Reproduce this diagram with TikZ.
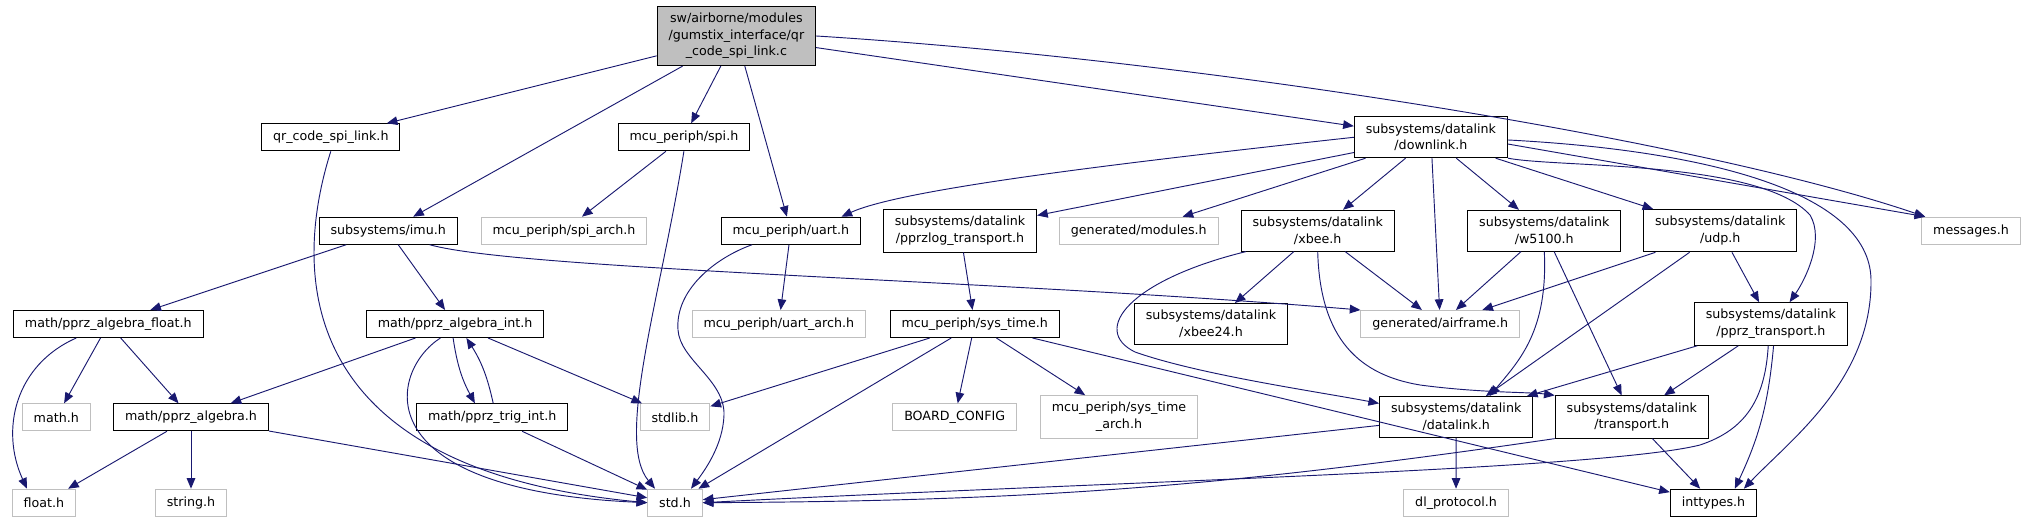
\documentclass[tikz,border=0pt]{standalone}
\usepackage{fontspec}
\setmainfont{DejaVu Sans}
\usetikzlibrary{arrows.meta}
\definecolor{edgeblue}{HTML}{191970}
\definecolor{boxgray}{HTML}{BFBFBF}

\begin{document}
\begin{tikzpicture}[x=0.75pt, y=-0.75pt, >={Triangle[length=8pt,width=6.5pt]},
  box/.style={draw=black, line width=0.75pt, fill=white, align=center,
    inner xsep=8.6pt, inner ysep=5pt, minimum height=20.25pt,
    font=\fontsize{9.5}{12.5}\selectfont},
  ext/.style={box, draw=boxgray},
  inc/.style={->, edgeblue, line width=0.7pt}]
  \useasboundingbox (0,0) rectangle (2026,523);
  % source file
  \node[box, fill=boxgray] (root) at (736.4,36) {sw/airborne/modules\\/gumstix\_interface/qr\\\_code\_spi\_link.c};
  % first rank
  \node[box] (qrlink) at (330.8,137.3) {qr\_code\_spi\_link.h};
  \node[box] (spi) at (683.9,137.3) {mcu\_periph/spi.h};
  \node[box] (downlink) at (1430.9,137.3) {subsystems/datalink\\/downlink.h};
  % second rank
  \node[box] (imu) at (388.2,230.7) {subsystems/imu.h};
  \node[ext] (spiarch) at (564,230.7) {mcu\_periph/spi\_arch.h};
  \node[box] (uart) at (790.8,230.7) {mcu\_periph/uart.h};
  \node[box] (pprzlog) at (960,230.7) {subsystems/datalink\\/pprzlog\_transport.h};
  \node[ext] (modules) at (1138.8,230.7) {generated/modules.h};
  \node[box] (xbee) at (1317.7,230.7) {subsystems/datalink\\/xbee.h};
  \node[box] (w5100) at (1544.3,230.7) {subsystems/datalink\\/w5100.h};
  \node[box] (udp) at (1720.2,230.7) {subsystems/datalink\\/udp.h};
  \node[ext] (messages) at (1971,230.7) {messages.h};
  % third rank
  \node[box] (algfloat) at (108.3,324) {math/pprz\_algebra\_float.h};
  \node[box] (algint) at (455.1,324) {math/pprz\_algebra\_int.h};
  \node[ext] (uartarch) at (778.8,324) {mcu\_periph/uart\_arch.h};
  \node[box] (systime) at (974.7,324) {mcu\_periph/sys\_time.h};
  \node[box] (xbee24) at (1211,324) {subsystems/datalink\\/xbee24.h};
  \node[ext] (airframe) at (1440.3,324) {generated/airframe.h};
  \node[box] (pprztr) at (1770.9,324) {subsystems/datalink\\/pprz\_transport.h};
  % fourth rank
  \node[ext] (mathh) at (56.3,417.3) {math.h};
  \node[box] (alg) at (191,417.3) {math/pprz\_algebra.h};
  \node[box] (trig) at (492.2,417.3) {math/pprz\_trig\_int.h};
  \node[ext] (stdlib) at (675,417.3) {stdlib.h};
  \node[ext] (board) at (954.7,417.3) {BOARD\_CONFIG};
  \node[ext] (systimearch) at (1119,417) {mcu\_periph/sys\_time\\\_arch.h};
  \node[box] (datalink) at (1456.2,417) {subsystems/datalink\\/datalink.h};
  \node[box] (transport) at (1631.8,417) {subsystems/datalink\\/transport.h};
  % last rank
  \node[ext] (floath) at (44,502.7) {float.h};
  \node[ext] (stringh) at (191,502.7) {string.h};
  \node[ext] (stdh) at (675,502.7) {std.h};
  \node[ext] (dlproto) at (1456,502.7) {dl\_protocol.h};
  \node[box] (inttypes) at (1713.5,502.7) {inttypes.h};
  % includes of the source file
  \draw[inc] (root) -- (qrlink);
  \draw[inc] (root) -- (imu);
  \draw[inc] (root) -- (spi);
  \draw[inc] (root) -- (uart);
  \draw[inc] (root) -- (downlink);
  \draw[inc] (root.east) .. controls (1200,60) and (1700,140) .. ([xshift=3pt]messages.north west);
  % qr_code_spi_link.h, spi.h, uart.h
  \draw[inc] (qrlink.south) .. controls (290,280) and (300,470) .. (stdh.west);
  \draw[inc] (spi) -- (spiarch);
  \draw[inc] (spi.south) .. controls (660,300) and (615,440) .. ([xshift=-15pt]stdh.north);
  \draw[inc] (uart) -- (uartarch);
  \draw[inc] ([xshift=-29pt]uart.south) .. controls (715,258) and (675,290) .. (678,330)
    .. controls (680,360) and (725,380) .. (724,415) .. controls (723,445) and (705,470) .. ([xshift=12pt]stdh.north);
  % imu.h and the math headers
  \draw[inc] (imu) -- (algfloat);
  \draw[inc] (imu) -- (algint);
  \draw[inc] ([xshift=31pt]imu.south) .. controls (520,270) and (1000,280) .. (airframe.north west);
  \draw[inc] ([xshift=-24pt]algfloat.south) .. controls (15,365) and (0,430) .. ([xshift=-12.75pt]floath.north);
  \draw[inc] (algfloat) -- (mathh);
  \draw[inc] (algfloat) -- (alg);
  \draw[inc] (algint) -- (alg);
  \draw[inc] ([xshift=-11pt]algint.south) .. controls (390,370) and (360,490) .. (stdh.west);
  \draw[inc] ([xshift=-1.5pt]algint.south) to[bend right=10] ([xshift=-13pt]trig.north);
  \draw[inc] ([xshift=0.75pt]trig.north) to[bend right=10] ([xshift=8.5pt]algint.south);
  \draw[inc] (algint) -- (stdlib);
  \draw[inc] (alg) -- (floath);
  \draw[inc] (alg) -- (stringh);
  \draw[inc] (alg) -- (stdh);
  \draw[inc] (trig) -- (stdh);
  % sys_time.h
  \draw[inc] (pprzlog) -- (systime);
  \draw[inc] (systime) -- (stdlib);
  \draw[inc] (systime) -- (stdh);
  \draw[inc] (systime) -- (board);
  \draw[inc] (systime) -- (systimearch);
  \draw[inc] (systime) -- (inttypes);
  % downlink.h
  \draw[inc] (downlink.west) .. controls (1100,165) and (900,190) .. ([xshift=38pt]uart.north);
  \draw[inc] (downlink) -- (pprzlog);
  \draw[inc] (downlink) -- (modules);
  \draw[inc] (downlink) -- (xbee);
  \draw[inc] (downlink) -- (airframe);
  \draw[inc] (downlink) -- (w5100);
  \draw[inc] (downlink) -- (udp);
  \draw[inc] (downlink.-5) -- ([xshift=3pt]messages.north west);
  \draw[inc] (downlink.south east) .. controls (1560,168) and (1760,160) .. (1810,215)
    .. controls (1825,240) and (1805,280) .. ([xshift=14pt]pprztr.north);
  \draw[inc] (downlink.-2) .. controls (1700,150) and (1870,190) .. (1871,280)
    .. controls (1872,380) and (1790,440) .. ([xshift=-10pt]inttypes.north east);
  % xbee.h, w5100.h, udp.h
  \draw[inc] (xbee) -- (xbee24);
  \draw[inc] (xbee) -- (airframe);
  \draw[inc] ([xshift=4pt]xbee.south west) .. controls (1130,280) and (1090,330) .. (1135,352)
    .. controls (1200,375) and (1320,392) .. (datalink.170);
  \draw[inc] (xbee.south) .. controls (1320,340) and (1360,375) .. (1420,385)
    .. controls (1480,393) and (1530,392) .. (transport.north west);
  \draw[inc] (w5100) -- (airframe);
  \draw[inc] (w5100.south) .. controls (1548,330) and (1520,360) .. ([xshift=25pt]datalink.north);
  \draw[inc] (w5100) -- (transport);
  \draw[inc] (udp) -- (airframe);
  \draw[inc] (udp) -- (datalink);
  \draw[inc] (udp) -- (pprztr);
  % pprz_transport.h, datalink.h, transport.h
  \draw[inc] (pprztr) -- (datalink);
  \draw[inc] (pprztr) -- (transport);
  \draw[inc] ([xshift=-2pt]pprztr.south) .. controls (1765,400) and (1745,430) .. (1700,445)
    .. controls (1600,470) and (1100,482) .. (stdh.east);
  \draw[inc] ([xshift=2pt]pprztr.south) to[bend left=10] ([xshift=16pt]inttypes.north);
  \draw[inc] (datalink) -- (stdh);
  \draw[inc] (datalink) -- (dlproto);
  \draw[inc] (transport.south west) to[bend left=4] (stdh.east);
  \draw[inc] (transport) -- (inttypes);
\end{tikzpicture}
\end{document}
